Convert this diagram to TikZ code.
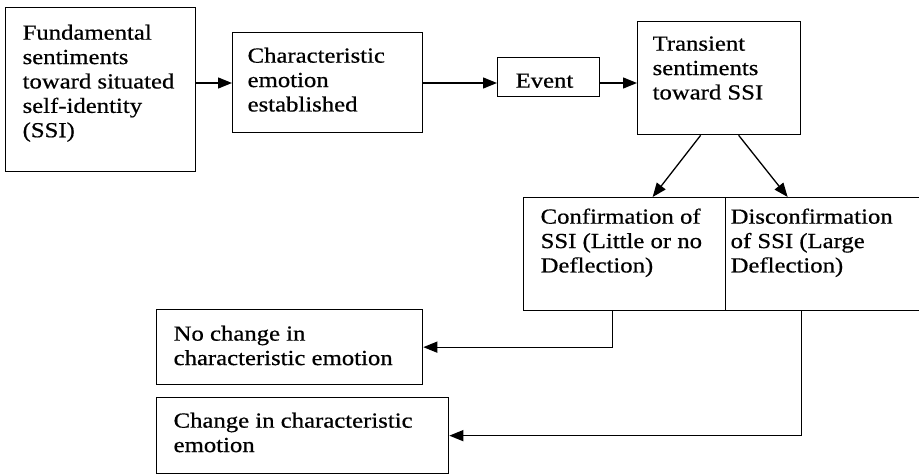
\documentclass[tikz,border=0pt]{standalone}
\usepackage{fontspec}
\setmainfont{Liberation Serif}[FakeStretch=1.15,FakeBold=0.6]
\usetikzlibrary{arrows.meta}
\newcommand\bxtext[5]{\parbox[c][#2pt][t]{#1pt}{\raggedright\leftskip=#3pt\relax\rule{0pt}{#4pt}#5}}
\tikzset{
  box/.style={draw, line width=1.3pt, inner sep=0pt, anchor=north west},
  arr/.style={line width=1.3pt, -{Triangle[length=14pt,width=11pt]}}
}
\begin{document}
\begin{tikzpicture}[x=1pt, y=-1pt, font=\fontsize{21.5}{24.4}\selectfont]
\useasboundingbox (0,0) rectangle (919,474);
\clip (0,0) rectangle (919,474);
\node[box] (b1) at (5,7) {\bxtext{190}{164}{17}{32}{Fundamental\\ sentiments\\ toward situated\\ self-identity\\ (SSI)}};
\node[box] (b2) at (232,32) {\bxtext{190}{100}{15}{30}{Characteristic\\ emotion\\ established}};
\node[box] (ev) at (497,57) {\bxtext{102}{39}{18}{30}{Event}};
\node[box] (tr) at (637,21) {\bxtext{163}{113}{15}{29}{Transient\\ sentiments\\ toward SSI}};
\node[box] (cf) at (523,197) {\bxtext{202}{113}{17}{26}{Confirmation of\\ SSI (Little or no\\ Deflection)}};
\node[box] (dc) at (725,197) {\bxtext{196}{113}{5}{26}{Disconfirmation\\ of SSI (Large\\ Deflection)}};
\node[box] (nc) at (156,309) {\bxtext{266}{75}{17}{31}{No change in\\ characteristic emotion}};
\node[box] (ch) at (156,397) {\bxtext{292}{76}{17}{30}{Change in characteristic\\ emotion}};
\coordinate (ay) at (0,83);
\draw[arr] (b1.east |- ay) -- (b2.west |- ay);
\draw[arr] (b2.east |- ay) -- (ev.west |- ay);
\draw[arr] (ev.east |- ay) -- (tr.west |- ay);
\draw[arr] ([xshift=-18.5pt]tr.south) -- ([xshift=28pt]cf.north);
\draw[arr] ([xshift=19.5pt]tr.south) -- ([xshift=-36pt]dc.north);
\draw[arr] ([xshift=-12pt]cf.south) |- (nc.east);
\draw[arr] (tr.east |- dc.south) |- (ch.east);
\end{tikzpicture}
\end{document}
